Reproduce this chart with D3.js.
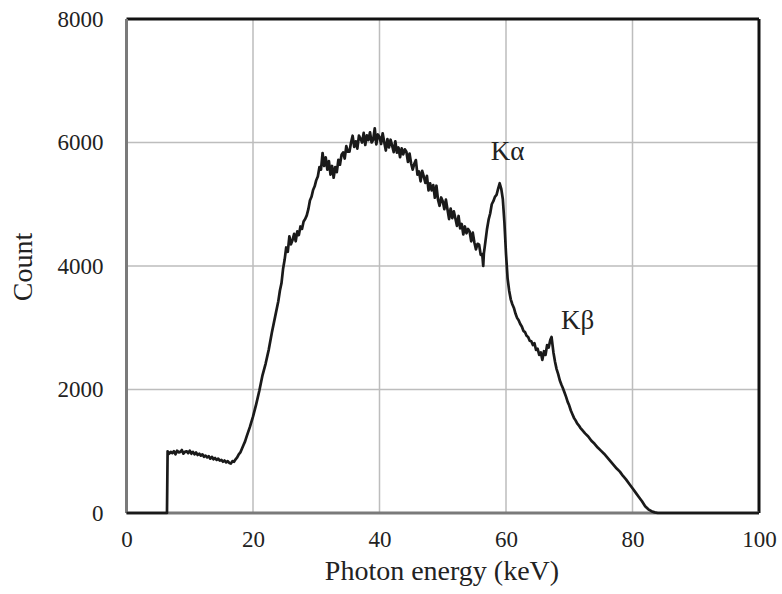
<!DOCTYPE html>
<html>
<head>
<meta charset="utf-8">
<script src="https://cdn.jsdelivr.net/npm/d3@7"></script>
<style>
  body { margin: 0; background: #fff; }
  text { font-family: "Liberation Serif", "Times New Roman", serif; fill: #222; }
</style>
</head>
<body>
<svg id="chart" width="782" height="594"></svg>
<script>
// spectrum (energy in keV, counts)
var energy = [0, 6.4,
    6.5, 6.75, 7, 7.25, 7.5, 7.75, 8, 8.25, 8.5, 8.75, 9, 9.25, 9.5, 9.75, 10, 10.25, 10.5, 10.75, 11, 11.25, 11.5, 11.75,
    12, 12.25, 12.5, 12.75, 13, 13.25, 13.5, 13.75, 14, 14.25, 14.5, 14.75, 15, 15.25, 15.5, 15.75, 16, 16.25, 16.5, 16.75,
    17, 17.25, 17.5, 17.75,
    18, 18.25, 18.5, 18.75, 19, 19.5, 20, 20.5, 21, 21.5, 22, 22.5, 23, 23.5, 24, 24.25, 24.5, 24.75, 25,
    25.25, 25.5, 25.75, 26, 26.25, 26.5, 26.75, 27, 27.25, 27.5, 27.75, 28, 28.25, 28.5, 28.75, 29,
    29.25, 29.5, 29.75, 30, 30.25, 30.5, 30.75, 31, 31.25, 31.5, 31.75, 32, 32.25, 32.5, 32.75, 33,
    33.25, 33.5, 33.75, 34, 34.25, 34.5, 34.75, 35, 35.25, 35.5, 35.75, 36, 36.25, 36.5, 36.75, 37,
    37.25, 37.5, 37.75, 38, 38.25, 38.5, 38.75, 39, 39.25, 39.5, 39.75, 40, 40.25, 40.5, 40.75, 41,
    41.25, 41.5, 41.75, 42, 42.25, 42.5, 42.75, 43, 43.25, 43.5, 43.75, 44, 44.25, 44.5, 44.75, 45,
    45.25, 45.5, 45.75, 46, 46.25, 46.5, 46.75, 47, 47.25, 47.5, 47.75, 48, 48.25, 48.5, 48.75, 49,
    49.25, 49.5, 49.75, 50, 50.25, 50.5, 50.75, 51, 51.25, 51.5, 51.75, 52, 52.25, 52.5, 52.75, 53,
    53.25, 53.5, 53.75, 54, 54.25, 54.5, 54.75, 55, 55.25, 55.5, 55.75, 56, 56.25,
    56.4, 56.5, 56.75, 57, 57.25, 57.5, 57.75, 58, 58.25, 58.5, 58.75, 59, 59.25, 59.5, 59.75, 60, 60.25, 60.5, 60.75, 61,
    61.25, 61.5, 61.75, 62, 62.25, 62.5, 62.75, 63, 63.25, 63.5, 63.75, 64, 64.25, 64.5, 64.75, 65,
    65.25, 65.5, 65.75, 66, 66.25, 66.5, 66.75, 67, 67.2, 67.5, 67.75, 68,
    68.25, 68.5, 68.75, 69, 69.25, 69.5, 69.75, 70, 70.25, 70.5, 70.75, 71, 71.25, 71.5, 71.75, 72,
    72.5, 73, 73.5, 74, 74.5, 75, 75.5, 76, 76.5, 77, 77.5, 78, 78.5, 79, 79.5, 80, 80.5, 81, 81.5, 82, 82.5, 83, 83.5, 84,
    100];
var counts = [0, 0,
    1000, 960, 990, 970, 1000, 950, 1010, 980, 990, 1020, 960, 990, 1000, 970, 1010, 960, 990, 950, 980, 940, 960, 930,
    950, 910, 930, 900, 920, 880, 910, 870, 890, 860, 880, 850, 860, 830, 850, 820, 840, 810, 800, 840,
    830, 870, 900, 950,
    980, 1040, 1100, 1160, 1240, 1390, 1560, 1760, 1980, 2230, 2420, 2650, 2930, 3180, 3430, 3600, 3720, 3950, 4100,
    4300, 4230, 4480, 4350, 4420, 4520, 4400, 4560, 4500, 4640, 4600, 4720, 4760, 4820, 4920, 5060,
    5120, 5230, 5290, 5390, 5450, 5600, 5560, 5830, 5620, 5760, 5560, 5700, 5480, 5620, 5430, 5600,
    5520, 5720, 5640, 5800, 5840, 5740, 5940, 5850, 5850, 6000, 6110, 5930, 6020, 5900, 6110, 6060,
    6000, 6155, 5960, 6115, 6040, 6165, 6000, 6040, 6230, 5970, 6130, 6090, 5975, 6150, 6005, 5870,
    6055, 5920, 6045, 5950, 5845, 6020, 5835, 5920, 5762, 5905, 5808, 5890, 5850, 5685, 5822, 5660,
    5560, 5655, 5715, 5480, 5530, 5370, 5540, 5450, 5345, 5460, 5225, 5340, 5225, 5310, 5105, 5300,
    5075, 4975, 5110, 5050, 4920, 5075, 4915, 4760, 4930, 4775, 4885, 4770, 4650, 4810, 4610, 4680,
    4510, 4640, 4530, 4600, 4560, 4400, 4540, 4380, 4270, 4360, 4345, 4180, 4190,
    4000, 4200, 4400, 4600, 4750, 4850, 5000, 5050, 5120, 5150, 5250, 5340, 5250, 5080, 4700, 4200, 3800, 3600, 3460, 3380,
    3320, 3230, 3160, 3120, 3060, 3020, 2950, 2930, 2870, 2850, 2790, 2780, 2720, 2750, 2640, 2660,
    2560, 2600, 2480, 2620, 2560, 2720, 2680, 2800, 2850, 2600, 2450, 2330,
    2250, 2150, 2080, 2020, 1950, 1880, 1800, 1740, 1660, 1600, 1540, 1500, 1450, 1420, 1380, 1350,
    1290, 1240, 1170, 1120, 1060, 1010, 960, 900, 840, 780, 720, 670, 600, 540, 470, 400, 330, 260, 190, 110, 60, 30, 10, 0,
    0];
var xTicks = [0, 20, 40, 60, 80, 100];
var yTicks = [0, 2000, 4000, 6000, 8000];
var peakNames = ["Kα", "Kβ"];
var peakEnergy = [57.6, 68.7];
var peakCount = [5717, 2980];

var svg = d3.select("#chart");
var margin = { top: 19, right: 23, bottom: 81, left: 126.5 },
    width = 782 - margin.left - margin.right,
    height = 594 - margin.top - margin.bottom;

var x = d3.scaleLinear().domain([0, 100]).range([margin.left, margin.left + width]);
var y = d3.scaleLinear().domain([0, 8000]).range([margin.top + height, margin.top]);

// grid
svg.append("g").selectAll("line")
    .data(xTicks.slice(1, -1))
    .enter().append("line")
    .attr("x1", d => x(d)).attr("x2", d => x(d))
    .attr("y1", y(0)).attr("y2", y(8000))
    .attr("stroke", "#bdbdbd").attr("stroke-width", 1.5);
svg.append("g").selectAll("line")
    .data(yTicks.slice(1, -1))
    .enter().append("line")
    .attr("x1", x(0)).attr("x2", x(100))
    .attr("y1", d => y(d)).attr("y2", d => y(d))
    .attr("stroke", "#bdbdbd").attr("stroke-width", 1.5);

// frame: top/right black, left/bottom grey
svg.append("line").attr("x1", x(0)).attr("x2", x(100)).attr("y1", y(8000)).attr("y2", y(8000))
    .attr("stroke", "#111").attr("stroke-width", 3);
svg.append("line").attr("x1", x(100)).attr("x2", x(100)).attr("y1", y(8000)).attr("y2", y(0))
    .attr("stroke", "#111").attr("stroke-width", 3);
svg.append("line").attr("x1", x(0)).attr("x2", x(100)).attr("y1", y(0)).attr("y2", y(0))
    .attr("stroke", "#7a7a7a").attr("stroke-width", 3);
svg.append("line").attr("x1", x(0)).attr("x2", x(0)).attr("y1", y(8000)).attr("y2", y(0))
    .attr("stroke", "#7a7a7a").attr("stroke-width", 3);

// axes (labels only)
var xAxis = svg.append("g")
    .attr("transform", "translate(0," + y(0) + ")")
    .call(d3.axisBottom(x).tickValues(xTicks).tickSize(0).tickPadding(18));
var yAxis = svg.append("g")
    .attr("transform", "translate(" + x(0) + ",0)")
    .call(d3.axisLeft(y).tickValues(yTicks).tickSize(0).tickPadding(23).tickFormat(d3.format("d")));
svg.selectAll(".domain").remove();
svg.selectAll(".tick text")
    .style("font-family", '"Liberation Serif", serif')
    .style("font-size", "23px")
    .attr("fill", "#222");

// spectrum
var line = d3.line()
    .x((d, i) => x(energy[i]))
    .y(d => y(d));
svg.append("path")
    .datum(counts)
    .attr("fill", "none")
    .attr("stroke", "#1a1a1a")
    .attr("stroke-width", 2.7)
    .attr("stroke-linejoin", "round")
    .attr("d", line);

// peak labels
svg.selectAll(".peak")
    .data(peakNames)
    .enter().append("text")
    .attr("class", "peak")
    .attr("x", (d, i) => x(peakEnergy[i]))
    .attr("y", (d, i) => y(peakCount[i]))
    .style("font-size", "27px")
    .text(d => d);

// axis titles
svg.append("text")
    .attr("x", 442)
    .attr("y", 580)
    .attr("text-anchor", "middle")
    .style("font-size", "28px")
    .text("Photon energy (keV)");
svg.append("text")
    .attr("transform", "translate(32," + 267 + ") rotate(-90)")
    .attr("text-anchor", "middle")
    .style("font-size", "28px")
    .text("Count");
</script>
</body>
</html>
